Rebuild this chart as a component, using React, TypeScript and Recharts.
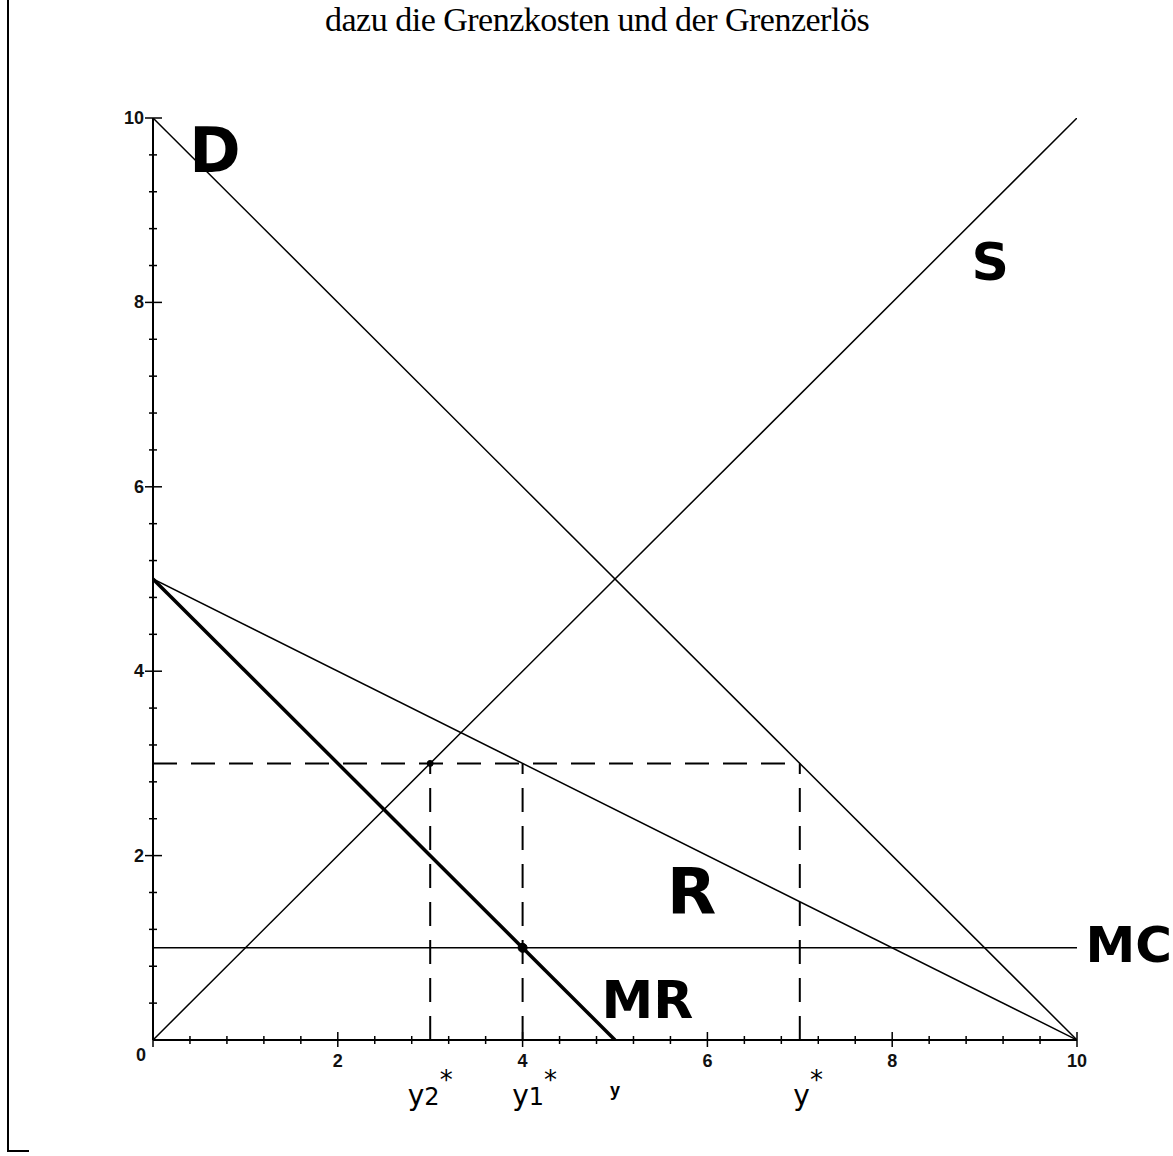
import { ComposedChart, Line, XAxis, YAxis, ReferenceDot } from 'recharts';

// axis ticks: minor every 0.4, labels on even numbers
const axisTicks = [
  0, 0.4, 0.8, 1.2, 1.6, 2, 2.4, 2.8, 3.2, 3.6, 4, 4.4, 4.8, 5.2, 5.6, 6,
  6.4, 6.8, 7.2, 7.6, 8, 8.4, 8.8, 9.2, 9.6, 10,
];
const labeledTicks = [0, 2, 4, 6, 8, 10];

// curves
const demand = [{ x: 0, y: 10 }, { x: 10, y: 0 }];
const supply = [{ x: 0, y: 0 }, { x: 10, y: 10 }];
const averageRevenue = [{ x: 0, y: 5 }, { x: 10, y: 0 }];
const marginalRevenue = [{ x: 0, y: 5 }, { x: 5, y: 0 }];
const marginalCost = [{ x: 0, y: 1 }, { x: 10, y: 1 }];

// dashed guides
const priceLine = [{ x: 0, y: 3 }, { x: 7, y: 3 }];
const guideY2 = [{ x: 3, y: 0 }, { x: 3, y: 3 }];
const guideY1 = [{ x: 4, y: 0 }, { x: 4, y: 3 }];
const guideY = [{ x: 7, y: 0 }, { x: 7, y: 3 }];

const isLabeled = (v: number) => labeledTicks.some((t) => Math.abs(t - v) < 1e-6);

const tickFont = { fontFamily: 'Liberation Sans, Arial, sans-serif', fontSize: 18, fontWeight: 'bold', fill: '#111' };
const handFont = { fontFamily: 'DejaVu Sans, sans-serif', fontWeight: 900, fill: '#000' };
const penFont = { fontFamily: 'DejaVu Sans, sans-serif', fill: '#000' };

const XTick = (props: any) => {
  const { x, y, payload } = props;
  const v = payload.value;
  const major = isLabeled(v);
  return (
    <g>
      <line x1={x} x2={x} y1={y - (major ? 8 : 4)} y2={y + (major ? 7 : 4)} stroke="#000" strokeWidth={1.5} />
      {major && (
        <text x={v === 0 ? x - 12 : x} y={y + (v === 0 ? 21 : 27)} textAnchor="middle" {...tickFont}>
          {Math.round(v)}
        </text>
      )}
    </g>
  );
};

const YTick = (props: any) => {
  const { x, y, payload } = props;
  const v = payload.value;
  const major = isLabeled(v);
  if (v === 0) return null;
  return (
    <g>
      <line x1={x - (major ? 8 : 4)} x2={x + (major ? 9 : 4)} y1={y} y2={y} stroke="#000" strokeWidth={1.5} />
      {major && (
        <text x={x - 9} y={y + 6} textAnchor="end" {...tickFont}>
          {Math.round(v)}
        </text>
      )}
    </g>
  );
};

const Hand = ({ cx, cy, text, size }: any) => (
  <text x={cx} y={cy} textAnchor="middle" dominantBaseline="central" fontSize={size} {...handFont}>
    {text}
  </text>
);

const Pen = ({ cx, cy, main, sub }: any) => (
  <text x={cx} y={cy + 10} textAnchor="middle" {...penFont} fontSize={28}>
    {main}
    {sub && <tspan fontSize={24}>{sub}</tspan>}
    <tspan dy={-16} fontSize={26}>*</tspan>
  </text>
);

const dashed = { stroke: '#000', strokeWidth: 2, strokeDasharray: '24 14' };

export default function App() {
  return (
    <div style={{ position: 'absolute', left: 0, top: 0, width: 1173, height: 1156, background: '#fff' }}>
      <div
        style={{
          position: 'absolute', left: 325, top: 3, fontFamily: 'Liberation Serif, Times New Roman, serif',
          fontSize: 34, lineHeight: '34px', color: '#000', whiteSpace: 'nowrap', letterSpacing: -0.5,
        }}
      >
        dazu die Grenzkosten und der Grenzerlös
      </div>
      <div style={{ position: 'absolute', left: 7, top: 0, width: 2, height: 1152, background: '#000' }} />
      <div style={{ position: 'absolute', left: 7, top: 1150, width: 22, height: 2, background: '#000' }} />
      <div style={{ position: 'absolute', left: 0, top: 0 }}>
        <ComposedChart width={1173} height={1156} margin={{ top: 118, right: 96, bottom: 115, left: 152 }}>
          <XAxis
            type="number" dataKey="x" domain={[0, 10]} ticks={axisTicks} interval={0} allowDataOverflow
            height={1} tickSize={0} tickMargin={0} tickLine={false} tick={<XTick />}
            axisLine={{ stroke: '#000', strokeWidth: 2 }}
          />
          <YAxis
            type="number" dataKey="y" domain={[0, 10]} ticks={axisTicks} interval={0} allowDataOverflow
            width={1} tickSize={0} tickMargin={0} tickLine={false} tick={<YTick />}
            axisLine={{ stroke: '#000', strokeWidth: 2 }}
          />
          <Line data={demand} dataKey="y" stroke="#000" strokeWidth={1.5} dot={false} activeDot={false} isAnimationActive={false} />
          <Line data={supply} dataKey="y" stroke="#000" strokeWidth={1.5} dot={false} activeDot={false} isAnimationActive={false} />
          <Line data={averageRevenue} dataKey="y" stroke="#000" strokeWidth={1.5} dot={false} activeDot={false} isAnimationActive={false} />
          <Line data={marginalRevenue} dataKey="y" stroke="#000" strokeWidth={3.5} dot={false} activeDot={false} isAnimationActive={false} />
          <Line data={marginalCost} dataKey="y" stroke="#000" strokeWidth={1.5} dot={false} activeDot={false} isAnimationActive={false} />
          <Line data={priceLine} dataKey="y" {...dashed} dot={false} activeDot={false} isAnimationActive={false} />
          <Line data={guideY2} dataKey="y" {...dashed} dot={false} activeDot={false} isAnimationActive={false} />
          <Line data={guideY1} dataKey="y" {...dashed} dot={false} activeDot={false} isAnimationActive={false} />
          <Line data={guideY} dataKey="y" {...dashed} dot={false} activeDot={false} isAnimationActive={false} />

          <ReferenceDot x={4} y={1} r={4.5} fill="#000" stroke="#000" />
          <ReferenceDot x={3} y={3} r={3} fill="#000" stroke="#000" />

          <ReferenceDot x={0.67} y={9.65} ifOverflow="visible" shape={(p: any) => <Hand {...p} text="D" size={62} />} />
          <ReferenceDot x={9.06} y={8.44} ifOverflow="visible" shape={(p: any) => <Hand {...p} text="S" size={52} />} />
          <ReferenceDot x={5.83} y={1.6} ifOverflow="visible" shape={(p: any) => <Hand {...p} text="R" size={64} />} />
          <ReferenceDot x={5.35} y={0.43} ifOverflow="visible" shape={(p: any) => <Hand {...p} text="MR" size={52} />} />
          <ReferenceDot x={10.56} y={1.03} ifOverflow="visible" shape={(p: any) => <Hand {...p} text="MC" size={50} />} />

          <ReferenceDot x={3.0} y={-0.6} ifOverflow="visible" shape={(p: any) => <Pen {...p} main="y" sub="2" />} />
          <ReferenceDot x={4.13} y={-0.6} ifOverflow="visible" shape={(p: any) => <Pen {...p} main="y" sub="1" />} />
          <ReferenceDot x={7.09} y={-0.6} ifOverflow="visible" shape={(p: any) => <Pen {...p} main="y" />} />
          <ReferenceDot
            x={5} y={-0.54} ifOverflow="visible"
            shape={(p: any) => (
              <text x={p.cx} y={p.cy + 6} textAnchor="middle" fontFamily="Liberation Sans, Arial, sans-serif" fontSize={18} fontWeight="bold" fill="#000">y</text>
            )}
          />
        </ComposedChart>
      </div>
    </div>
  );
}
